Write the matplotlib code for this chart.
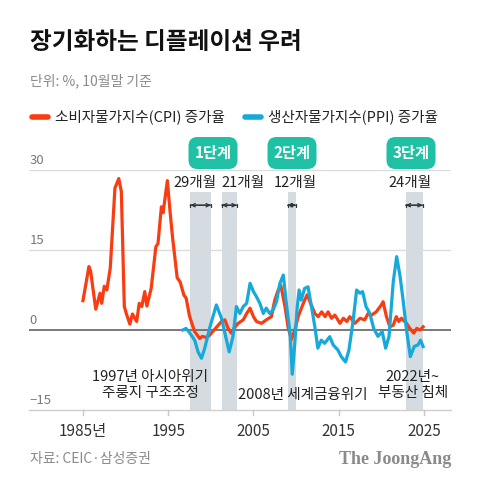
import matplotlib
matplotlib.use("Agg")
import matplotlib.pyplot as plt
from matplotlib.patches import FancyBboxPatch
from matplotlib.transforms import IdentityTransform
from matplotlib.lines import Line2D

plt.rcParams["font.family"] = ["Noto Sans CJK KR", "DejaVu Sans"]

W, H = 480, 487
CPI_C = "#FA3C12"
PPI_C = "#16A9D9"
BAND_C = "#D4DCE2"
TEAL = "#1FC0A4"
GRAY = "#8a8a8a"

# ── data ─────────────────────────────────────────────────────────
cpi_year = [1985.0, 1985.7, 1985.9, 1986.5, 1987.0, 1987.2, 1987.5, 1987.8,
            1988.2, 1988.75, 1989.2, 1989.5, 1989.85, 1990.1, 1990.5, 1990.8,
            1991.3, 1991.6, 1991.9, 1992.25, 1992.5, 1993.0, 1993.55, 1993.8,
            1994.2, 1994.4, 1994.9, 1995.2, 1995.5, 1996.05, 1996.4, 1996.85,
            1997.1, 1997.5, 1998.1, 1998.7, 1999.0, 1999.5, 1999.9, 2000.7,
            2001.25, 2001.65, 2002.0, 2002.4, 2002.8, 2003.2, 2003.8, 2004.2,
            2004.6, 2005.0, 2005.35, 2005.95, 2006.5, 2007.1, 2007.5, 2007.9,
            2008.2, 2008.7, 2009.05, 2009.45, 2009.85, 2010.25, 2010.45, 2011.0,
            2011.3, 2011.75, 2012.2, 2012.6, 2013.0, 2013.4, 2013.75, 2014.15,
            2014.55, 2015.15, 2015.55, 2015.95, 2016.3, 2016.9, 2017.5, 2018.05,
            2018.45, 2018.85, 2019.4, 2020.0, 2020.2, 2020.6, 2021.0, 2021.4,
            2021.75, 2022.05, 2022.35, 2022.95, 2023.35, 2023.8, 2024.15, 2024.55,
            2024.9]
cpi_val = [5.5, 11.9, 11.0, 3.9, 6.9, 5.0, 8.2, 7.5,
           11.6, 26.6, 28.4, 26.0, 4.4, 3.0, 1.1, 3.0,
           1.6, 5.0, 4.4, 7.2, 4.5, 7.8, 15.6, 16.2,
           23.1, 22.0, 28.0, 22.5, 17.5, 9.8, 9.0, 6.5,
           6.0, 2.6, -0.3, -1.6, -1.2, -1.4, -0.9, 0.6,
           1.6, 1.9, 0.4, -0.6, 0.5, 1.25, 1.9, 3.1,
           4.1, 2.5, 1.6, 1.25, 1.9, 2.5, 5.6, 7.5,
           8.4, 4.4, 0.6, -1.8, 0.0, 2.5, 3.4, 5.6,
           6.6, 4.8, 3.1, 2.5, 3.4, 2.5, 3.4, 2.2,
           2.8, 1.25, 2.2, 1.6, 2.5, 1.25, 2.2, 1.9,
           3.1, 2.8, 3.4, 4.7, 5.3, 2.5, 0.6, 0.9,
           2.5, 1.6, 2.2, 1.25, 0.3, -0.6, 0.3, 0.0,
           0.6]

ppi_year = [1996.7, 1997.1, 1997.55, 1998.1, 1998.5, 1998.9, 1999.25, 1999.9,
            2000.65, 2001.25, 2001.65, 2002.15, 2002.6, 2003.0, 2003.4, 2003.8,
            2004.2, 2004.6, 2005.0, 2005.35, 2005.75, 2006.15, 2006.5, 2006.9,
            2007.3, 2007.7, 2008.1, 2008.5, 2008.9, 2009.3, 2009.55, 2009.85,
            2010.1, 2010.35, 2010.6, 2011.0, 2011.4, 2011.8, 2012.2, 2012.55,
            2012.95, 2013.35, 2013.95, 2014.35, 2014.9, 2015.3, 2015.8, 2016.2,
            2016.7, 2017.1, 2017.5, 2017.8, 2018.2, 2018.65, 2019.1, 2019.6,
            2020.1, 2020.5, 2020.9, 2021.4, 2021.8, 2022.2, 2022.55, 2022.95,
            2023.4, 2023.85, 2024.3, 2024.6, 2024.9]
ppi_val = [0.0, 0.3, -0.6, -1.9, -4.1, -5.3, -3.6, 0.6,
           4.7, 2.2, -0.6, -4.1, -1.2, 4.4, 3.1, 4.4,
           5.0, 8.75, 7.2, 6.25, 5.0, 3.1, 4.1, 3.1,
           3.75, 5.3, 8.75, 10.3, 4.4, -0.6, -8.3, -2.5,
           3.75, 7.5, 5.6, 7.8, 8.1, 4.4, 0.6, -3.4,
           -1.9, -2.5, -1.25, -2.8, -3.75, -5.0, -6.0, -3.75,
           1.9, 7.5, 6.9, 7.2, 4.4, 3.1, 0.3, -1.2,
           -0.3, -3.4, -1.2, 9.1, 13.75, 10.0, 5.6, 0.0,
           -5.0, -3.1, -2.8, -1.9, -3.1]

band_start = [1997.6, 2001.3, 2009.0, 2022.85]
band_months = [29, 21, 12, 24]
month_labels = ["29개월", "21개월", "12개월", "24개월"]
stage_labels = ["1단계", "2단계", "3단계"]
xticks = [1985, 1995, 2005, 2015, 2025]
xtick_labels = ["1985년", "1995", "2005", "2015", "2025"]
yticks = [30, 15, 0, -15]
ytick_labels = ["30", "15", "0", "−15"]

def fx(px): return px / W
def fy(py): return 1 - py / H

fig = plt.figure(figsize=(W / 100, H / 100), dpi=100)
fig.patch.set_facecolor("white")
ax = fig.add_axes([fx(29), fy(410), (451 - 29) / W, (410 - 170) / H])
ax.set_xlim(1978.67, 2028.17)
ax.set_ylim(-15, 30)
ax.axis("off")

# grid / axis lines
for v in (15, 30):
    ax.axhline(v, color="#dcdcdc", lw=1.0, zorder=1)
ax.axhline(-15, color="#cfcfcf", lw=1.0, zorder=1, clip_on=False)
ax.axhline(0, color="#6e6e6e", lw=1.3, zorder=2)
for t in xticks:
    ax.plot([t, t], [-15, -16.0], color="#c8c8c8", lw=1.0, clip_on=False)
for v, lab in zip(yticks, ytick_labels):
    ax.text(1978.75, v + 0.6, lab, ha="left", va="bottom", fontsize=9.5,
            color="#7a7a7a")
for t, lab in zip(xticks, xtick_labels):
    ax.text(t, -17.4, lab, ha="center", va="top", fontsize=11, color="#333333")

# shaded bands + arrows
for s, m in zip(band_start, band_months):
    e = s + m / 12
    ax.fill_between([s, e], -15, 25.9, color=BAND_C, lw=0, zorder=0)
    ax.annotate("", xy=(s, 23.4), xytext=(e, 23.4),
                arrowprops=dict(arrowstyle="|-|,widthA=0.12,widthB=0.12",
                                color="#333333", lw=0.9, shrinkA=0, shrinkB=0))
    ax.annotate("", xy=(s, 23.4), xytext=(e, 23.4),
                arrowprops=dict(arrowstyle="<->,head_length=0.25,head_width=0.12",
                                color="#333333", lw=0.9, shrinkA=0, shrinkB=0))

ax.plot(cpi_year, cpi_val, color=CPI_C, lw=2.3, zorder=3, solid_joinstyle="round")
ax.plot(ppi_year, ppi_val, color=PPI_C, lw=2.3, zorder=4, solid_joinstyle="round")

# month labels
for px, lab in zip([195, 243, 295, 410], month_labels):
    fig.text(fx(px), fy(183), lab, ha="center", va="center", fontsize=10.5,
             color="#222222")

# stage boxes
for px, lab in zip([213, 292, 411], stage_labels):
    box = FancyBboxPatch((px - 24.5, H - 169), 49, 32,
                         boxstyle="round,pad=0,rounding_size=9",
                         facecolor=TEAL, edgecolor="none",
                         transform=IdentityTransform())
    fig.add_artist(box)
    fig.text(fx(px), fy(153), lab, ha="center", va="center", fontsize=11,
             color="white", fontweight="bold")

# event annotations
for px, py, lab in [(150, 377, "1997년 아시아위기"), (150, 393, "주룽지 구조조정"),
                    (303, 395, "2008년 세계금융위기"),
                    (413, 377, "2022년~"), (413, 393, "부동산 침체")]:
    fig.text(fx(px), fy(py), lab, ha="center", va="center", fontsize=10.5,
             color="#222222")

# header
fig.text(fx(30), fy(42), "장기화하는 디플레이션 우려", ha="left", va="center",
         fontsize=17, fontweight="black", color="#111111")
fig.text(fx(30), fy(81), "단위: %, 10월말 기준", ha="left", va="center",
         fontsize=10, color=GRAY)
for x0, col, lab in [(30, CPI_C, "소비자물가지수(CPI) 증가율"),
                     (243, PPI_C, "생산자물가지수(PPI) 증가율")]:
    fig.add_artist(Line2D([fx(x0 + 2), fx(x0 + 18)], [fy(117), fy(117)],
                          color=col, lw=4, solid_capstyle="round"))
    fig.text(fx(x0 + 25), fy(117), lab, ha="left", va="center", fontsize=10.5,
             color="#222222")

# footer
fig.text(fx(30), fy(459), "자료: CEIC·삼성증권", ha="left", va="center",
         fontsize=10, color=GRAY)
fig.text(fx(451), fy(459), "The JoongAng", ha="right", va="center",
         fontsize=13, color=GRAY, fontweight="bold", family="Liberation Serif")

fig.savefig("out.png", dpi=100)
